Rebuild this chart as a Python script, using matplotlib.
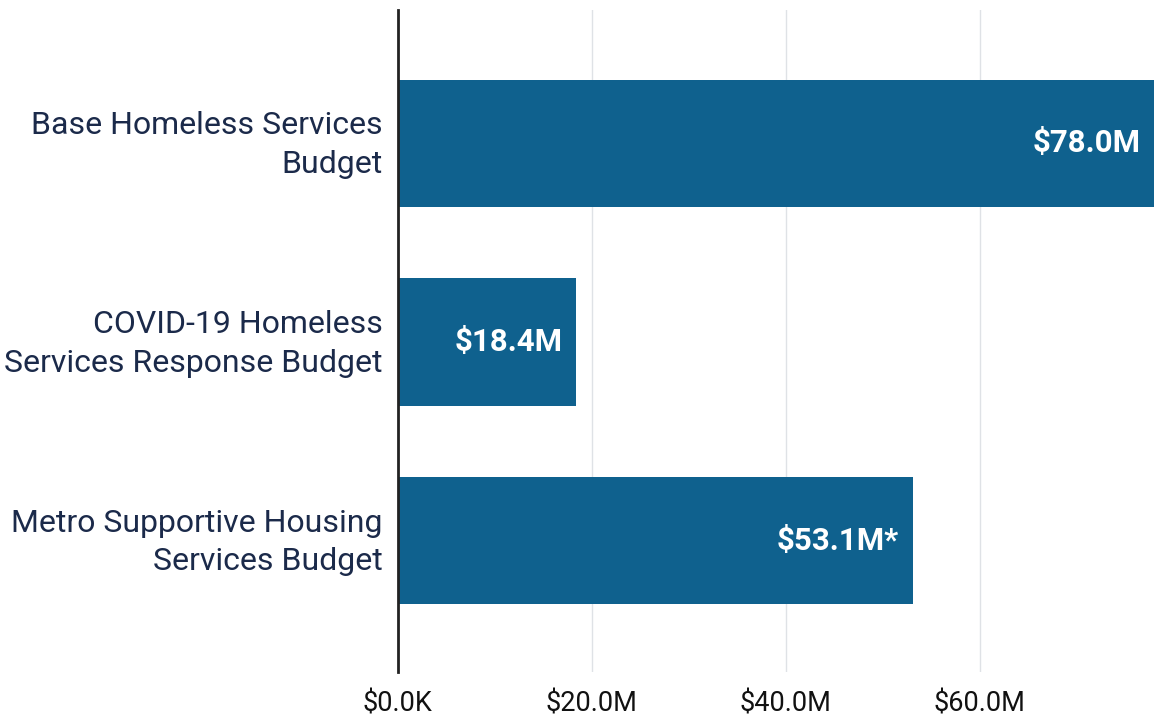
import matplotlib
matplotlib.use("Agg")
import matplotlib.pyplot as plt
import matplotlib.transforms as mtransforms

categories = ["Base Homeless Services\nBudget",
              "COVID-19 Homeless\nServices Response Budget",
              "Metro Supportive Housing\nServices Budget"]
values = [78.0, 18.4, 53.1]
bar_labels = ["$78.0M", "$18.4M", "$53.1M*"]
xticks = [0, 20, 40, 60]
xtick_labels = ["$0.0K", "$20.0M", "$40.0M", "$60.0M"]

plt.rcParams['font.family'] = ['Roboto', 'DejaVu Sans']

fig = plt.figure(figsize=(11.7, 7.21), dpi=100)
ax = fig.add_axes([0.340, 0.068, 0.658, 0.918])

bar_color = "#0f618e"
y = list(range(len(categories)))
ax.barh(y, values, height=0.64, color=bar_color, zorder=2)
ax.set_xlim(0, 79.4)
ax.set_ylim(2.66, -0.67)

ax.set_xticks(xticks)
ax.set_xticklabels(xtick_labels, fontsize=19.5, color="#111111")
ax.set_yticks(y)
ax.set_yticklabels(categories, fontsize=23, color="#1b2a4a", linespacing=1.42)
ax.tick_params(axis='both', length=0)
ax.tick_params(axis='x', pad=13)
ax.tick_params(axis='y', pad=11)

shift = mtransforms.ScaledTranslation(0, 6 / 100, fig.dpi_scale_trans)
for lbl in ax.get_yticklabels():
    lbl.set_transform(lbl.get_transform() + shift)

ax.grid(axis='x', color="#dfe2e6", linewidth=1.0, zorder=0)
for s in ["top", "right", "bottom"]:
    ax.spines[s].set_visible(False)
ax.spines["left"].set_color("#222222")
ax.spines["left"].set_linewidth(2)
ax.spines["left"].set_zorder(3)

for yi, v, lab in zip(y, values, bar_labels):
    ax.annotate(lab, xy=(v, yi), xytext=(-10, 0), textcoords="offset points",
                ha="right", va="center", color="white", fontsize=22.5,
                fontweight="bold", zorder=4)

fig.savefig("out.png", dpi=100, facecolor="white")
